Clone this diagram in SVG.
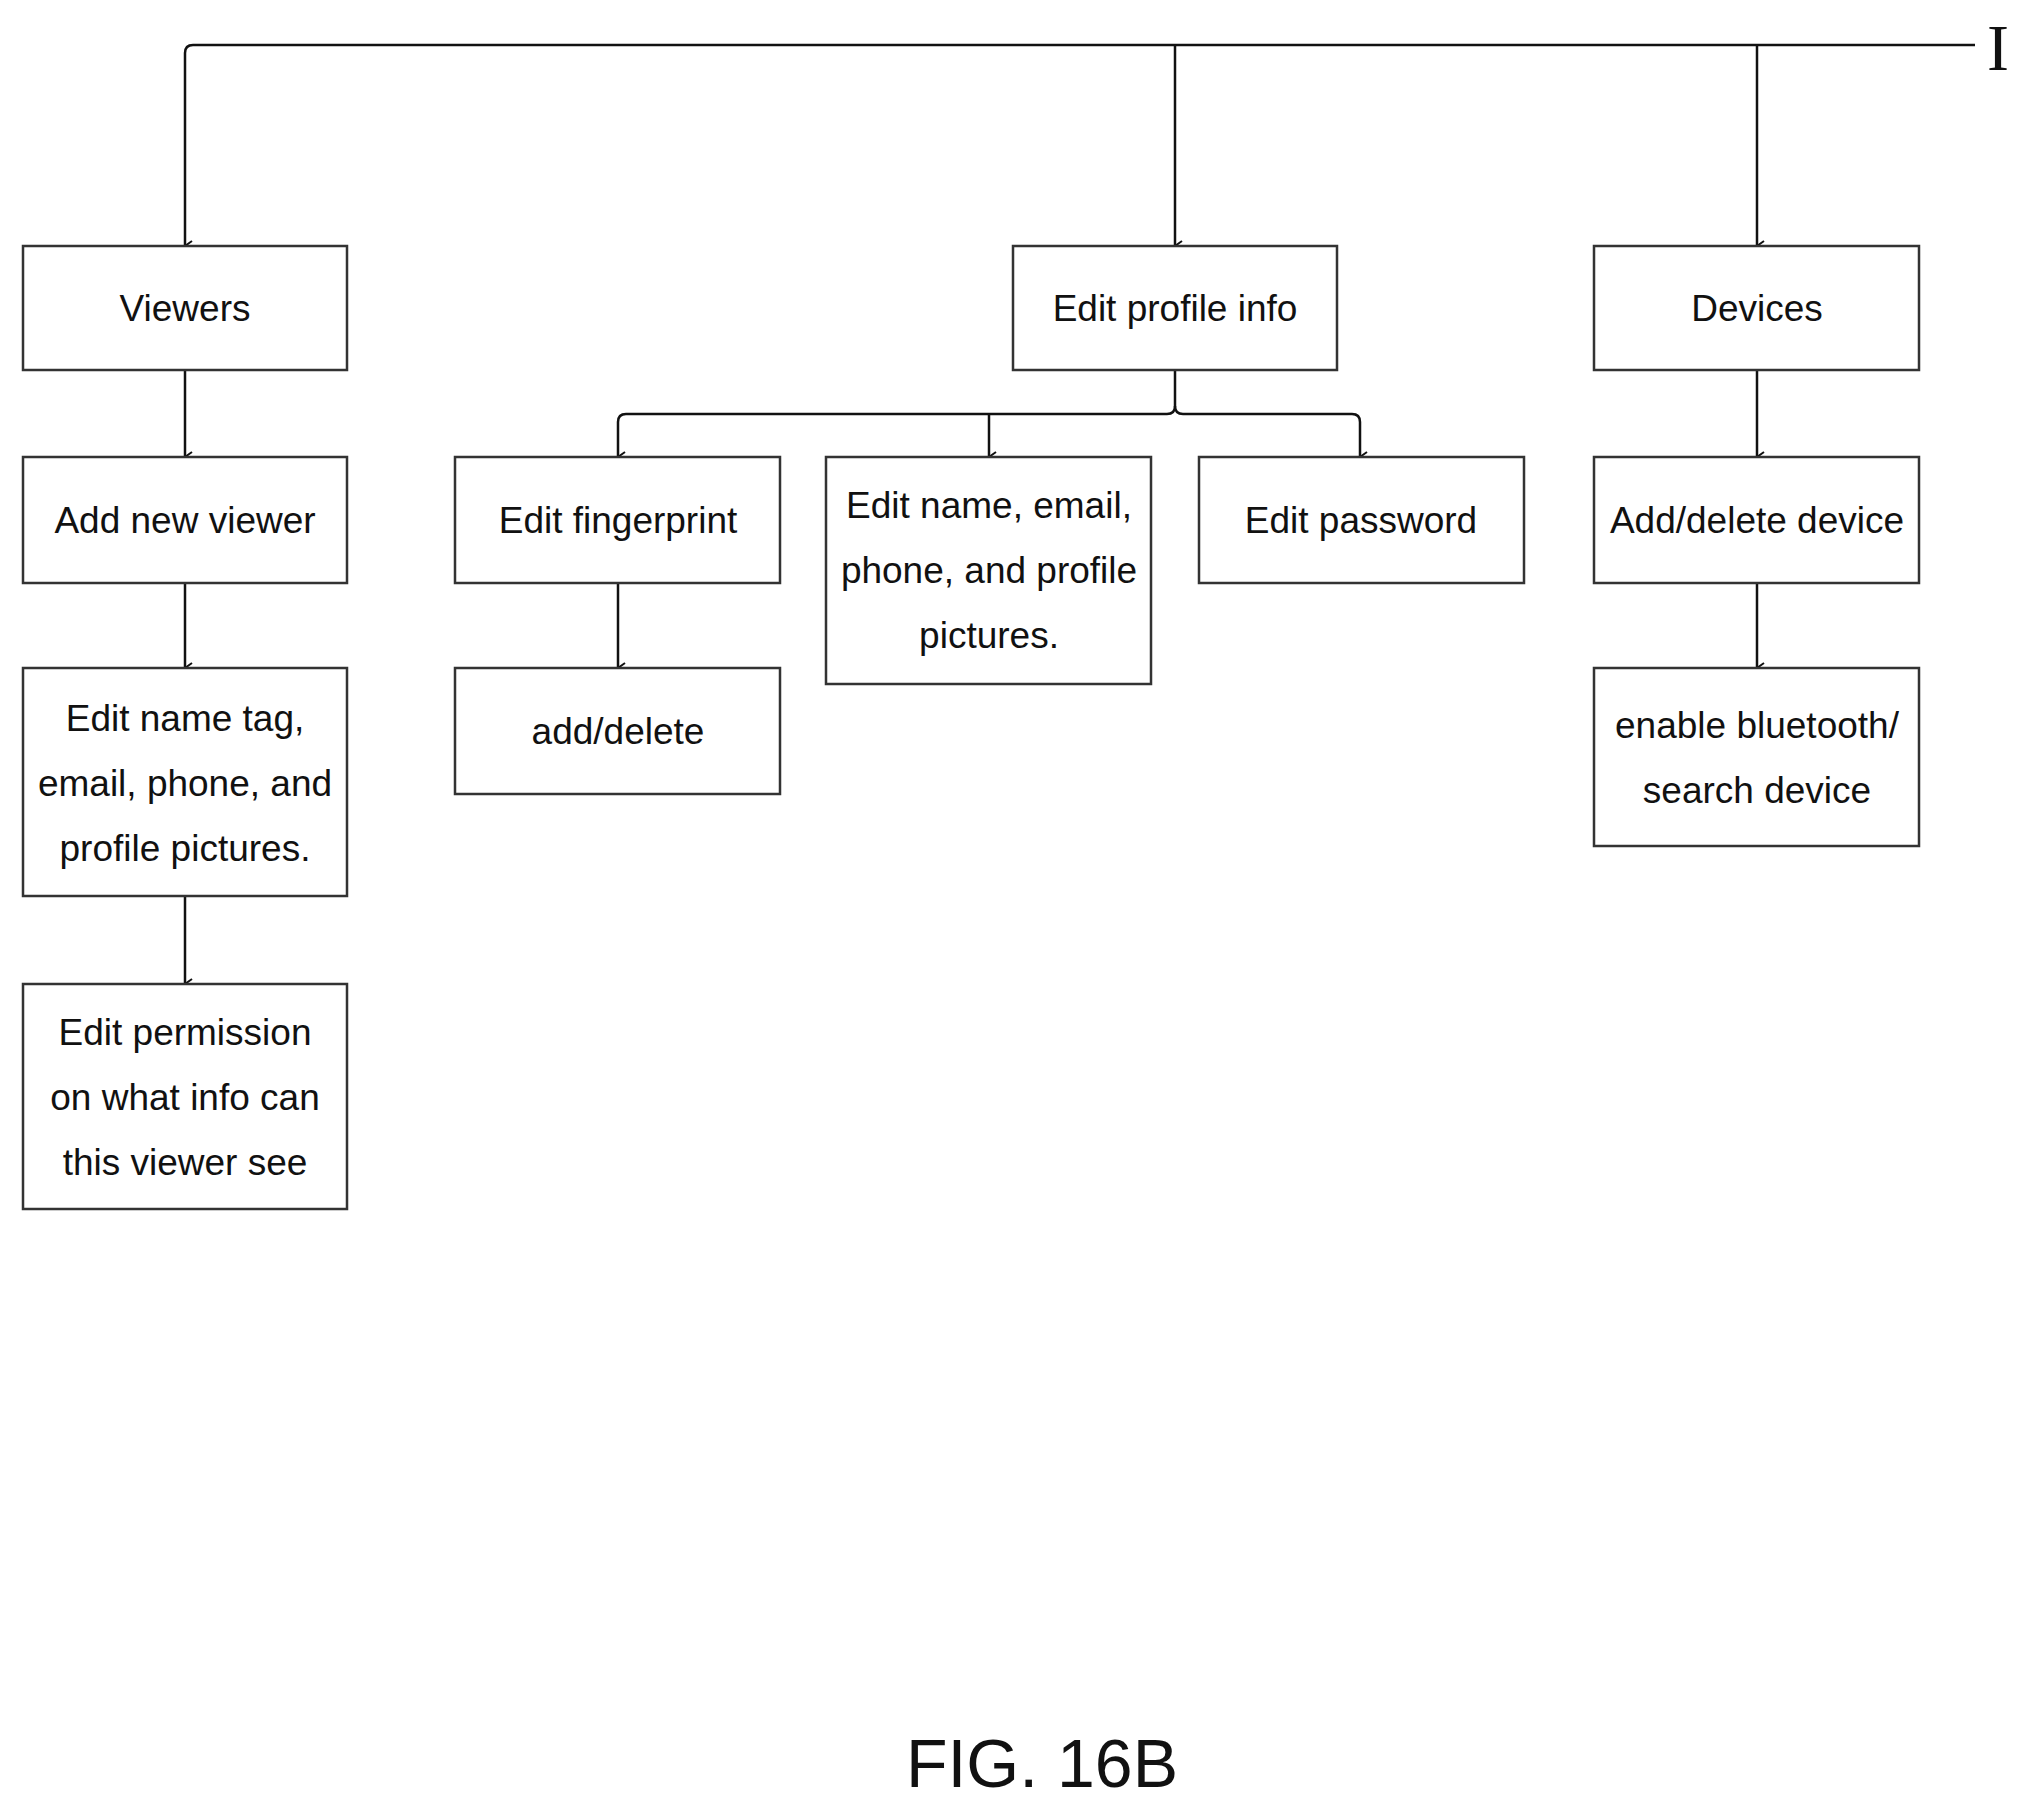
<svg xmlns="http://www.w3.org/2000/svg" width="2024" height="1803" viewBox="0 0 2024 1803">
<style>
rect{fill:#fff;stroke:#333;stroke-width:2.5}
text{font-family:"Liberation Sans",Arial,sans-serif;font-size:37px;fill:#111;text-anchor:middle}
.c{fill:none;stroke:#111;stroke-width:2.5}
</style>
<defs><marker id="a" viewBox="0 0 12 12" refX="6" refY="11" markerWidth="12" markerHeight="12" markerUnits="userSpaceOnUse" orient="auto-start-reverse"><path d="M1,4 L6,11 L11,4" fill="none" stroke="#111" stroke-width="2"/></marker></defs>
<rect width="2024" height="1803" style="stroke:none"/>
<g id="connectors">
<path class="c" d="M1975,45 H193 Q185,45 185,53 V246" marker-end="url(#a)"/>
<path class="c" d="M1175,45 V246" marker-end="url(#a)"/>
<path class="c" d="M1757,45 V246" marker-end="url(#a)"/>
<path class="c" d="M185,370 V457" marker-end="url(#a)"/>
<path class="c" d="M185,583 V668" marker-end="url(#a)"/>
<path class="c" d="M185,896 V984" marker-end="url(#a)"/>
<path class="c" d="M1175,370 V406 Q1175,414 1167,414 H626 Q618,414 618,422 V457" marker-end="url(#a)"/>
<path class="c" d="M1175,406 Q1175,414 1183,414 H1352 Q1360,414 1360,422 V457" marker-end="url(#a)"/>
<path class="c" d="M989,414 V457" marker-end="url(#a)"/>
<path class="c" d="M618,583 V668" marker-end="url(#a)"/>
<path class="c" d="M1757,370 V457" marker-end="url(#a)"/>
<path class="c" d="M1757,583 V668" marker-end="url(#a)"/>
</g>
<text x="1998" y="70" style="font-family:'Liberation Serif',serif;font-size:66px">I</text>
<g id="viewers"><rect x="23" y="246" width="324" height="124"/><text x="185" y="321">Viewers</text></g>
<g id="add-viewer"><rect x="23" y="457" width="324" height="126"/><text x="185" y="533">Add new viewer</text></g>
<g id="edit-name-tag"><rect x="23" y="668" width="324" height="228"/><text x="185" y="731">Edit name tag,</text><text x="185" y="796">email, phone, and</text><text x="185" y="861">profile pictures.</text></g>
<g id="edit-permission"><rect x="23" y="984" width="324" height="225"/><text x="185" y="1045">Edit permission</text><text x="185" y="1110">on what info can</text><text x="185" y="1175">this viewer see</text></g>
<g id="edit-profile"><rect x="1013" y="246" width="324" height="124"/><text x="1175" y="321">Edit profile info</text></g>
<g id="edit-fingerprint"><rect x="455" y="457" width="325" height="126"/><text x="618" y="533">Edit fingerprint</text></g>
<g id="add-delete"><rect x="455" y="668" width="325" height="126"/><text x="618" y="744">add/delete</text></g>
<g id="edit-name-email"><rect x="826" y="457" width="325" height="227"/><text x="989" y="518">Edit name, email,</text><text x="989" y="583">phone, and profile</text><text x="989" y="648">pictures.</text></g>
<g id="edit-password"><rect x="1199" y="457" width="325" height="126"/><text x="1361" y="533">Edit password</text></g>
<g id="devices"><rect x="1594" y="246" width="325" height="124"/><text x="1757" y="321">Devices</text></g>
<g id="add-delete-device"><rect x="1594" y="457" width="325" height="126"/><text x="1757" y="533">Add/delete device</text></g>
<g id="bluetooth"><rect x="1594" y="668" width="325" height="178"/><text x="1757" y="738">enable bluetooth/</text><text x="1757" y="803">search device</text></g>
<text x="1042" y="1787" style="font-size:68px">FIG. 16B</text>
</svg>
